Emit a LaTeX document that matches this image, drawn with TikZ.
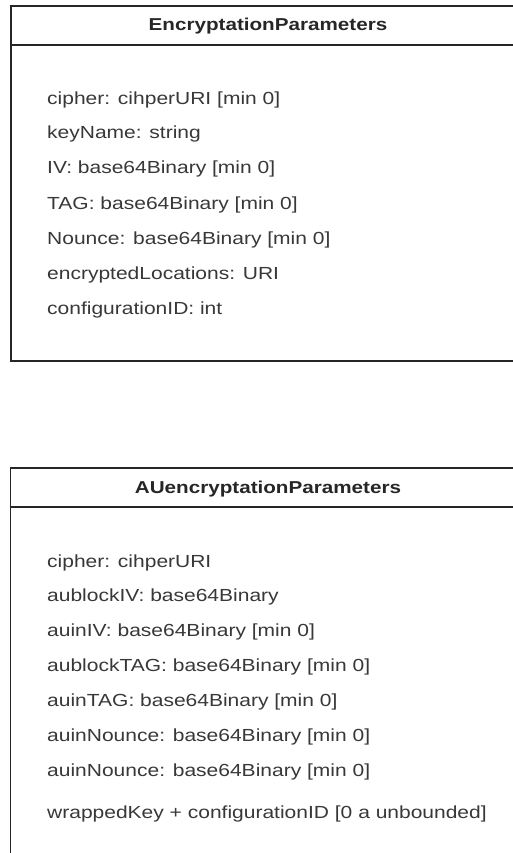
\documentclass[tikz,border=0pt]{standalone}
\usepackage{fontspec}
\setmainfont[FakeStretch=1.2]{Liberation Sans}
\begin{document}
\begin{tikzpicture}[x=1pt,y=-1pt,
  attr/.style={anchor=base west, inner sep=0pt, font=\fontsize{17.5}{20}\selectfont, text=black!78},
  ttl/.style={anchor=base, inner sep=0pt, font=\fontsize{17.2}{20}\selectfont\bfseries, text=black!85},
  frame/.style={draw=black!85, line width=1.6pt, fill=white, rectangle, inner sep=0pt, anchor=north west}]
\useasboundingbox (0,0) rectangle (513,853);
\clip (0,0) rectangle (513,853);

% class EncryptationParameters
\node[frame, minimum width=516pt, minimum height=354.5pt] (encbox) at (10,5.5) {};
\draw[draw=black!85, line width=1.6pt] (encbox.west |- 0,45) -- (encbox.east |- 0,45);
\node[ttl] (enctitle) at (268,31) {EncryptationParameters};
\node[attr] (e1) at (47,105) {cipher: cihperURI [min 0]};
\node[attr] (e2) at (47,139) {keyName: string};
\node[attr] (e3) at (47,174) {IV: base64Binary [min 0]};
\node[attr] (e4) at (47,209) {TAG: base64Binary [min 0]};
\node[attr] (e5) at (47,244) {Nounce: base64Binary [min 0]};
\node[attr] (e6) at (47,279) {encryptedLocations: URI};
\node[attr] (e7) at (47,314) {configurationID: int};

% class AUencryptationParameters
\node[frame, minimum width=516.5pt, minimum height=420pt] (aubox) at (9.5,467) {};
\draw[draw=black!85, line width=1.6pt] (aubox.west |- 0,507) -- (aubox.east |- 0,507);
\node[ttl] (autitle) at (268,493) {AUencryptationParameters};
\node[attr] (a1) at (47,567) {cipher: cihperURI};
\node[attr] (a2) at (47,601) {aublockIV: base64Binary};
\node[attr] (a3) at (47,636) {auinIV: base64Binary [min 0]};
\node[attr] (a4) at (47,671) {aublockTAG: base64Binary [min 0]};
\node[attr] (a5) at (47,706) {auinTAG: base64Binary [min 0]};
\node[attr] (a6) at (47,741) {auinNounce: base64Binary [min 0]};
\node[attr] (a7) at (47,776) {auinNounce: base64Binary [min 0]};
\node[attr] (a8) at (47,818) {wrappedKey + configurationID [0 a unbounded]};
\end{tikzpicture}
\end{document}
